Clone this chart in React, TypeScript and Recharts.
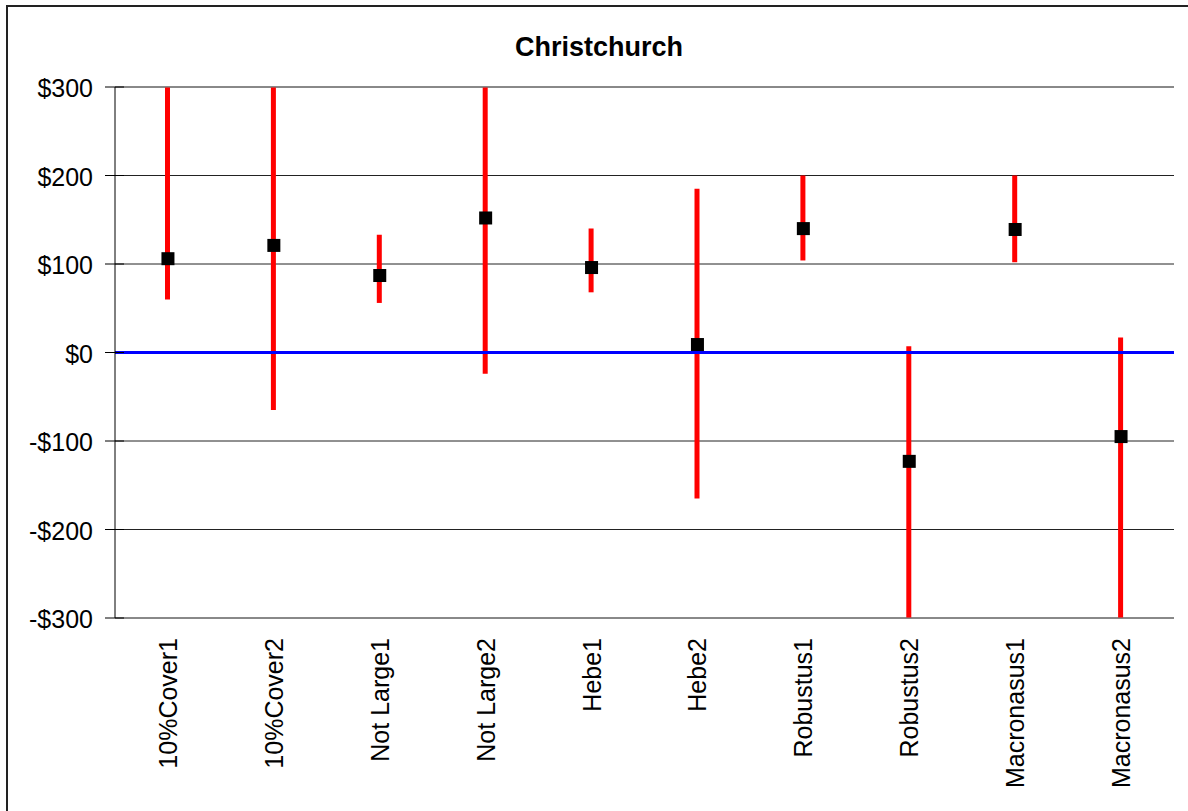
import React from "react";
import {
  Bar,
  CartesianGrid,
  ComposedChart,
  ReferenceLine,
  Scatter,
  XAxis,
  YAxis
} from "recharts";

const categories = [
  "10%Cover1",
  "10%Cover2",
  "Not Large1",
  "Not Large2",
  "Hebe1",
  "Hebe2",
  "Robustus1",
  "Robustus2",
  "Macronasus1",
  "Macronasus2"
];
const estimates = [106, 121, 87, 152, 96, 9, 140, -123, 139, -95];
const lowerBounds = [60, -65, 56, -24, 68, -165, 104, -340, 102, -340];
const upperBounds = [340, 340, 133, 340, 140, 185, 200, 7, 200, 17];
const yTicks = [-300, -200, -100, 0, 100, 200, 300];

const data = categories.map((name, i) => ({
  name,
  estimate: estimates[i],
  range: [lowerBounds[i], upperBounds[i]]
}));

const FONT = "'Liberation Sans', Arial, sans-serif";

const money = (v: number) => (v < 0 ? `-$${Math.abs(v)}` : `$${v}`);

function YTick({ x, y, payload }: any) {
  return (
    <g>
      <line x1={x + 12} x2={x + 31} y1={y} y2={y} stroke="#000" />
      <text x={x} y={y + 10} textAnchor="end" fontSize={25} fontFamily={FONT} fill="#000">
        {money(payload.value)}
      </text>
    </g>
  );
}

function XTick({ x, y, payload }: any) {
  return (
    <text
      x={x}
      y={y}
      dy={9}
      transform={`rotate(-90 ${x} ${y})`}
      textAnchor="end"
      fontSize={25}
      fontFamily={FONT}
      fill="#000">
      {payload.value}
    </text>
  );
}

function SquareDot({ cx, cy }: any) {
  return <rect x={cx - 6.5} y={cy - 6.5} width={13} height={13} fill="#000" />;
}

export default function App() {
  return (
    <div
      style={{
        position: "fixed",
        left: 0,
        top: 0,
        width: 1188,
        height: 811,
        overflow: "hidden",
        background: "#fff"
      }}>
      <div
        style={{
          position: "absolute",
          left: 6,
          top: 5,
          width: 1400,
          height: 1000,
          borderTop: "2px solid #222",
          borderLeft: "2px solid #222"
        }}
      />
      <div
        style={{
          position: "absolute",
          left: 0,
          top: 34,
          width: 1198,
          textAlign: "center",
          fontFamily: FONT,
          fontWeight: "bold",
          fontSize: 27,
          lineHeight: "27px"
        }}>
        Christchurch
      </div>
      <div style={{ position: "absolute", left: 0, top: 0 }}>
        <ComposedChart
          width={1188}
          height={811}
          data={data}
          margin={{ top: 87, right: 14, bottom: 0, left: 0 }}>
          <CartesianGrid vertical={false} stroke="#222" />
          <XAxis
            dataKey="name"
            type="category"
            height={193}
            tickLine={false}
            tickSize={0}
            tickMargin={20}
            interval={0}
            axisLine={{ stroke: "#808080" }}
            tick={<XTick />}
          />
          <YAxis
            type="number"
            domain={[-300, 300]}
            ticks={yTicks}
            allowDataOverflow
            width={115}
            tickLine={false}
            tickSize={10}
            tickMargin={12}
            axisLine={{ stroke: "#000" }}
            tick={<YTick />}
          />
          <YAxis
            yAxisId="frame"
            orientation="right"
            type="number"
            domain={[-300, 300]}
            width={0}
            tick={false}
            tickLine={false}
            axisLine={{ stroke: "#808080" }}
          />
          <ReferenceLine y={300} stroke="#808080" />
          <ReferenceLine y={0} stroke="#0000ff" strokeWidth={3} />
          <Bar
            dataKey="range"
            barSize={5}
            fill="#ff0000"
            isAnimationActive={false}
          />
          <Scatter
            dataKey="estimate"
            fill="#000"
            shape={<SquareDot />}
            isAnimationActive={false}
          />
        </ComposedChart>
      </div>
    </div>
  );
}
